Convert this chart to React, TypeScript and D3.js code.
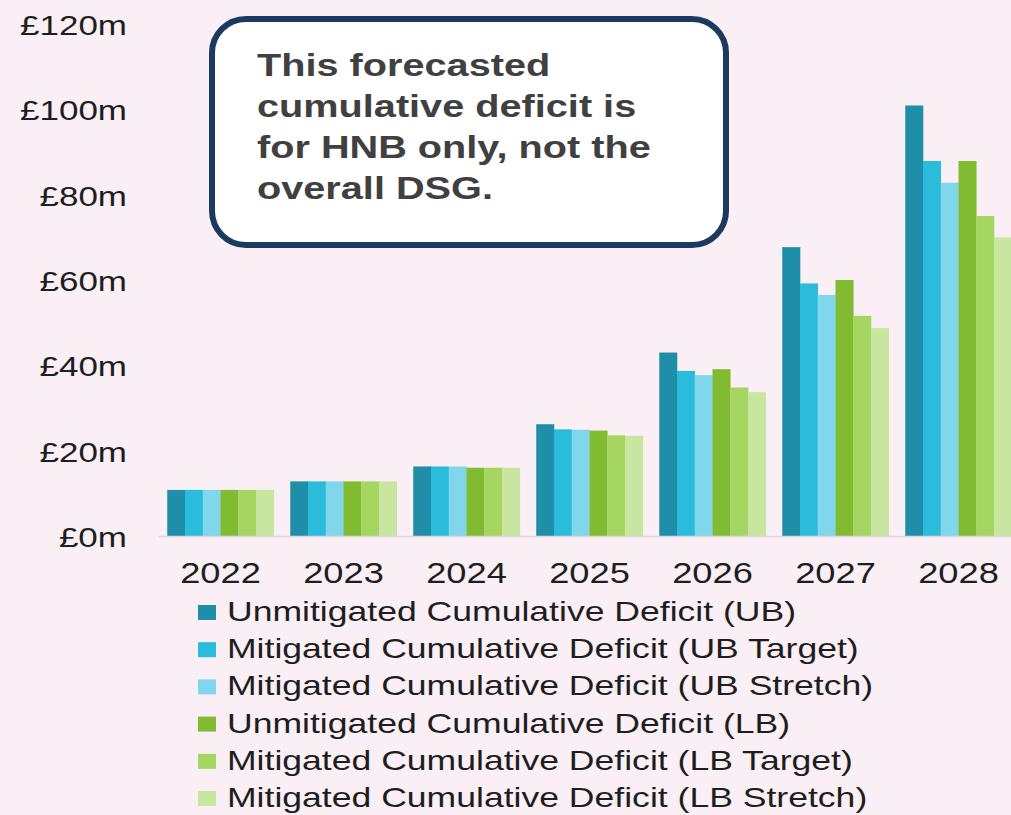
import React from "react";
import * as d3 from "d3";

const years = ["2022", "2023", "2024", "2025", "2026", "2027", "2028"];
const seriesNames = [
  "Unmitigated Cumulative Deficit (UB)",
  "Mitigated Cumulative Deficit (UB Target)",
  "Mitigated Cumulative Deficit (UB Stretch)",
  "Unmitigated Cumulative Deficit (LB)",
  "Mitigated Cumulative Deficit (LB Target)",
  "Mitigated Cumulative Deficit (LB Stretch)",
];
const ubValues = [10.8, 12.8, 16.3, 26.2, 43.0, 67.7, 100.9];
const ubTargetValues = [10.8, 12.8, 16.3, 25.0, 38.7, 59.2, 87.9];
const ubStretchValues = [10.8, 12.8, 16.3, 24.9, 37.7, 56.5, 82.8];
const lbValues = [10.8, 12.8, 16.0, 24.7, 39.1, 60.0, 87.9];
const lbTargetValues = [10.8, 12.8, 16.0, 23.6, 34.8, 51.6, 75.0];
const lbStretchValues = [10.8, 12.8, 16.0, 23.5, 33.7, 48.7, 70.0];
const seriesValues = [ubValues, ubTargetValues, ubStretchValues, lbValues, lbTargetValues, lbStretchValues];
const seriesColors = ["#1f8ea8", "#2bbbdb", "#80d6ea", "#80bb32", "#a4d661", "#c8e6a0"];
const yTicks = [0, 20, 40, 60, 80, 100, 120];
const noteLines = ["This forecasted", "cumulative deficit is", "for HNB only, not the", "overall DSG."];

const W = 1011;
const H = 815;
const SX = 1.25;
const FONT = "'Liberation Sans', Arial, sans-serif";

export default function App() {
  const x = d3.scaleBand<string>().domain(years).range([159, 1020]).paddingInner(0.134).paddingOuter(0.067);
  const xi = d3.scaleBand<number>().domain(d3.range(seriesNames.length)).range([0, x.bandwidth()]);
  const y = d3.scaleLinear().domain([0, 120]).range([536, 24]);

  return (
    <svg width={W} height={H} style={{ position: "fixed", left: 0, top: 0 }} fontFamily={FONT}>
      <rect x={0} y={0} width={W} height={H} fill="#fbeff6" />
      {/* y axis labels */}
      {yTicks.map((t) => (
        <text key={t} transform={`translate(127,${y(t) + 11}) scale(${SX},1)`} textAnchor="end" fontSize={28} fill="#1e1e1e">
          {`£${t}m`}
        </text>
      ))}
      {/* bars */}
      {seriesValues.map((vals, si) =>
        vals.map((v, i) => (
          <rect
            key={`${si}-${i}`}
            x={(x(years[i]) as number) + (xi(si) as number)}
            y={y(v)}
            width={xi.bandwidth() + 0.3}
            height={y(0) - y(v)}
            fill={seriesColors[si]}
          />
        ))
      )}
      {/* baseline */}
      <line x1={159} x2={W} y1={y(0) + 0.5} y2={y(0) + 0.5} stroke="#dcd6da" strokeWidth={1.5} />
      {/* x labels */}
      {years.map((yr) => (
        <text key={yr} transform={`translate(${(x(yr) as number) + x.bandwidth() / 2},583) scale(${SX},1)`} textAnchor="middle" fontSize={29} fill="#1e1e1e">
          {yr}
        </text>
      ))}
      {/* legend */}
      {seriesNames.map((name, i) => {
        const by = 621 + i * 37.2;
        return (
          <g key={name}>
            <rect x={198} y={by - 16} width={18} height={15} fill={seriesColors[i]} />
            <text transform={`translate(227,${by}) scale(1.27,1)`} fontSize={28} fill="#1e1e1e">
              {name}
            </text>
          </g>
        );
      })}
      {/* annotation */}
      <rect x={212} y={19} width={514} height={226} rx={34} ry={34} fill="#ffffff" stroke="#1b3a5f" strokeWidth={6} />
      {noteLines.map((ln, i) => (
        <text key={i} transform={`translate(257,${76 + i * 41}) scale(1.26,1)`} fontSize={31.5} fontWeight="bold" fill="#404040">
          {ln}
        </text>
      ))}
    </svg>
  );
}
